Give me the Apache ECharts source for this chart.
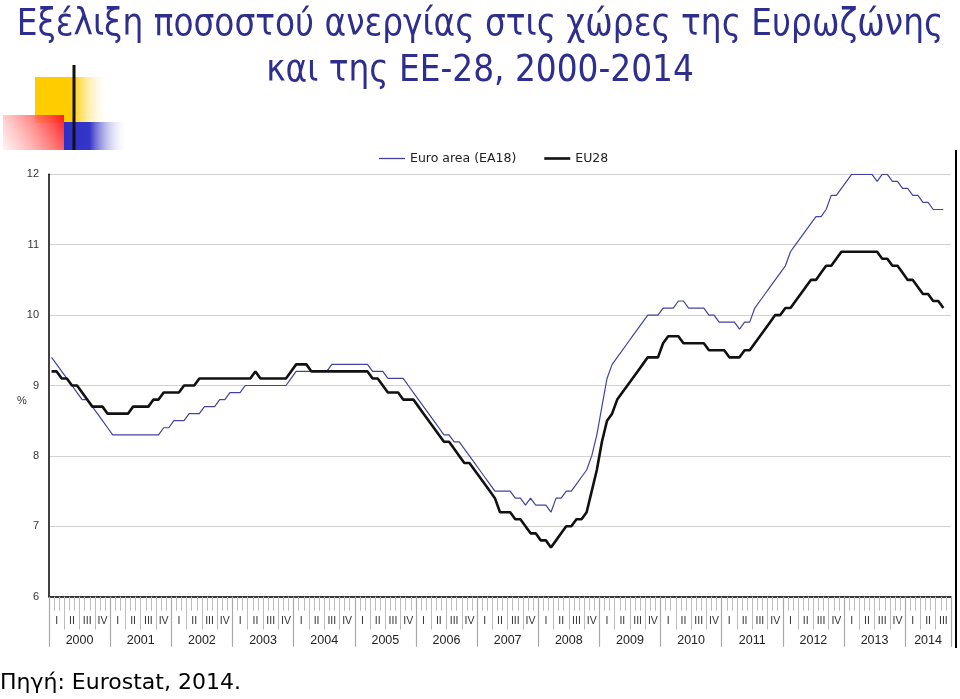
<!DOCTYPE html>
<html>
<head>
<meta charset="utf-8">
<script src="https://cdn.jsdelivr.net/npm/echarts@6/dist/echarts.min.js"></script>
<style>
html,body{margin:0;padding:0;background:#fff;}
#chart{width:960px;height:699px;}
</style>
</head>
<body>
<div id="chart"></div>
<script>
// Monthly categories Jan 2000 .. Sep 2014 (axis span); data run to Aug 2014
var years = ['2000','2001','2002','2003','2004','2005','2006','2007','2008','2009','2010','2011','2012','2013','2014'];
var quarterLabels = ['I','II','III','IV'];
var seriesNames = ['Euro area (EA18)', 'EU28'];

// Euro area (EA18), %
var euroArea = [
  9.4, 9.3, 9.2, 9.1, 9.0, 8.9, 8.8, 8.8, 8.7, 8.6, 8.5, 8.4,
  8.3, 8.3, 8.3, 8.3, 8.3, 8.3, 8.3, 8.3, 8.3, 8.3, 8.4, 8.4,
  8.5, 8.5, 8.5, 8.6, 8.6, 8.6, 8.7, 8.7, 8.7, 8.8, 8.8, 8.9,
  8.9, 8.9, 9.0, 9.0, 9.0, 9.0, 9.0, 9.0, 9.0, 9.0, 9.0, 9.1,
  9.2, 9.2, 9.2, 9.2, 9.2, 9.2, 9.2, 9.3, 9.3, 9.3, 9.3, 9.3,
  9.3, 9.3, 9.3, 9.2, 9.2, 9.2, 9.1, 9.1, 9.1, 9.1, 9.0, 8.9,
  8.8, 8.7, 8.6, 8.5, 8.4, 8.3, 8.3, 8.2, 8.2, 8.1, 8.0, 7.9,
  7.8, 7.7, 7.6, 7.5, 7.5, 7.5, 7.5, 7.4, 7.4, 7.3, 7.4, 7.3,
  7.3, 7.3, 7.2, 7.4, 7.4, 7.5, 7.5, 7.6, 7.7, 7.8, 8.0, 8.3,
  8.7, 9.1, 9.3, 9.4, 9.5, 9.6, 9.7, 9.8, 9.9, 10.0, 10.0, 10.0,
  10.1, 10.1, 10.1, 10.2, 10.2, 10.1, 10.1, 10.1, 10.1, 10.0, 10.0, 9.9,
  9.9, 9.9, 9.9, 9.8, 9.9, 9.9, 10.1, 10.2, 10.3, 10.4, 10.5, 10.6,
  10.7, 10.9, 11.0, 11.1, 11.2, 11.3, 11.4, 11.4, 11.5, 11.7, 11.7, 11.8,
  11.9, 12.0, 12.0, 12.0, 12.0, 12.0, 11.9, 12.0, 12.0, 11.9, 11.9, 11.8,
  11.8, 11.7, 11.7, 11.6, 11.6, 11.5, 11.5, 11.5
];

// EU28, %
var eu28 = [
  9.2, 9.2, 9.1, 9.1, 9.0, 9.0, 8.9, 8.8, 8.7, 8.7, 8.7, 8.6,
  8.6, 8.6, 8.6, 8.6, 8.7, 8.7, 8.7, 8.7, 8.8, 8.8, 8.9, 8.9,
  8.9, 8.9, 9.0, 9.0, 9.0, 9.1, 9.1, 9.1, 9.1, 9.1, 9.1, 9.1,
  9.1, 9.1, 9.1, 9.1, 9.2, 9.1, 9.1, 9.1, 9.1, 9.1, 9.1, 9.2,
  9.3, 9.3, 9.3, 9.2, 9.2, 9.2, 9.2, 9.2, 9.2, 9.2, 9.2, 9.2,
  9.2, 9.2, 9.2, 9.1, 9.1, 9.0, 8.9, 8.9, 8.9, 8.8, 8.8, 8.8,
  8.7, 8.6, 8.5, 8.4, 8.3, 8.2, 8.2, 8.1, 8.0, 7.9, 7.9, 7.8,
  7.7, 7.6, 7.5, 7.4, 7.2, 7.2, 7.2, 7.1, 7.1, 7.0, 6.9, 6.9,
  6.8, 6.8, 6.7, 6.8, 6.9, 7.0, 7.0, 7.1, 7.1, 7.2, 7.5, 7.8,
  8.2, 8.5, 8.6, 8.8, 8.9, 9.0, 9.1, 9.2, 9.3, 9.4, 9.4, 9.4,
  9.6, 9.7, 9.7, 9.7, 9.6, 9.6, 9.6, 9.6, 9.6, 9.5, 9.5, 9.5,
  9.5, 9.4, 9.4, 9.4, 9.5, 9.5, 9.6, 9.7, 9.8, 9.9, 10.0, 10.0,
  10.1, 10.1, 10.2, 10.3, 10.4, 10.5, 10.5, 10.6, 10.7, 10.7, 10.8, 10.9,
  10.9, 10.9, 10.9, 10.9, 10.9, 10.9, 10.9, 10.8, 10.8, 10.7, 10.7, 10.6,
  10.5, 10.5, 10.4, 10.3, 10.3, 10.2, 10.2, 10.1
];

var yTicks = [6, 7, 8, 9, 10, 11, 12];

// build month categories (177 months: Jan 2000 .. Sep 2014)
var months = [];
for (var y = 0; y < years.length; y++) {
  var nm = (y === years.length - 1) ? 9 : 12;
  for (var m = 1; m <= nm; m++) months.push(years[y] + '-' + (m < 10 ? '0' + m : m));
}
var nMonths = months.length;
var quarterBounds = [], quarterCenters = [];
for (var q = 0; q <= nMonths; q += 3) quarterBounds.push(q);
for (var q2 = 0; q2 < nMonths; q2 += 3) quarterCenters.push(q2 + 1.5);
var yearBounds = [], yearCenters = [];
for (var k = 0; k < years.length; k++) {
  yearBounds.push(k * 12);
  var end = Math.min(k * 12 + 12, nMonths);
  yearCenters.push((k * 12 + end) / 2);
}
yearBounds.push(nMonths);

var chart = echarts.init(document.getElementById('chart'), null, {renderer: 'canvas'});
var gridL = 49, gridR = 9, gridT = 174.3, gridB = 102.3;
var titleFont = '"DejaVu Sans Condensed", "DejaVu Sans", sans-serif';

var option = {
  animation: false,
  backgroundColor: '#ffffff',
  title: [
    {text: 'Εξέλιξη ποσοστού ανεργίας στις χώρες της Ευρωζώνης', left: 'center', top: 2,
     textStyle: {fontFamily: titleFont, fontSize: 36.5, fontWeight: 'normal', color: '#2e2e8f'}},
    {text: 'και της ΕΕ-28, 2000-2014', left: 'center', top: 48,
     textStyle: {fontFamily: titleFont, fontSize: 36.5, fontWeight: 'normal', color: '#2e2e8f'}},
    {text: 'Πηγή: Eurostat, 2014.', left: 0, top: 672, padding: 0,
     textStyle: {fontFamily: 'DejaVu Sans', fontSize: 22, fontWeight: 'normal', color: '#000'}}
  ],
  legend: {
    data: [
      {name: seriesNames[0], icon: 'path://M0,0h26v1.3h-26z'},
      {name: seriesNames[1], icon: 'path://M0,0h26v2.6h-26z'}
    ],
    left: 374, top: 147, itemWidth: 26, itemHeight: 10, itemGap: 28,
    textStyle: {fontFamily: 'DejaVu Sans', fontSize: 12.5, color: '#222'}
  },
  grid: {left: gridL, right: gridR, top: gridT, bottom: gridB, containLabel: false},
  xAxis: [
    {
      type: 'category', data: months, boundaryGap: true, position: 'bottom',
      axisLine: {show: true, lineStyle: {color: '#000', width: 1.5}},
      axisTick: {show: true, interval: 0, length: 14, lineStyle: {color: '#bdbdbd', width: 1}},
      axisLabel: {show: false}, splitLine: {show: false}
    },
    {
      type: 'value', min: 0, max: nMonths, position: 'bottom', offset: 14,
      axisLine: {show: false},
      axisTick: {show: true, customValues: quarterBounds, length: 19, lineStyle: {color: '#bdbdbd', width: 1}},
      axisLabel: {show: true, customValues: quarterCenters, margin: 5,
        fontFamily: 'Liberation Sans', fontSize: 10.5, color: '#333',
        formatter: function (v) { return quarterLabels[Math.round((v - 1.5) / 3) % 4]; }},
      splitLine: {show: false}
    },
    {
      type: 'value', min: 0, max: nMonths, position: 'bottom', offset: 0,
      axisLine: {show: false},
      axisTick: {show: true, customValues: yearBounds, length: 50, lineStyle: {color: '#a8a8a8', width: 1.2}},
      axisLabel: {show: true, customValues: yearCenters, margin: 37,
        fontFamily: 'Liberation Sans', fontSize: 12.5, color: '#222',
        formatter: function (v) {
          for (var i = 0; i < yearCenters.length; i++) if (Math.abs(yearCenters[i] - v) < 0.01) return years[i];
          return '';
        }},
      splitLine: {show: false}
    }
  ],
  yAxis: {
    type: 'value', min: yTicks[0], max: yTicks[yTicks.length - 1], interval: 1,
    axisLine: {show: true, lineStyle: {color: '#000', width: 1.5}},
    axisTick: {show: false},
    axisLabel: {margin: 10, fontFamily: 'Liberation Sans', fontSize: 11, color: '#333'},
    splitLine: {show: true, lineStyle: {color: '#d2d2d2', width: 1}}
  },
  series: [
    {name: seriesNames[0], type: 'line', xAxisIndex: 0, data: euroArea, symbol: 'none',
     lineStyle: {color: '#43439e', width: 1.2}, itemStyle: {color: '#43439e'}},
    {name: seriesNames[1], type: 'line', xAxisIndex: 0, data: eu28, symbol: 'none',
     lineStyle: {color: '#111', width: 2.6}, itemStyle: {color: '#111'}}
  ],
  graphic: [
    // decorative squares
    {type: 'rect', shape: {x: 35, y: 77, width: 75, height: 46}, z: 1,
     style: {fill: new echarts.graphic.LinearGradient(0, 0, 1, 0, [
       {offset: 0, color: '#ffcc00'}, {offset: 0.5, color: '#ffcc00'}, {offset: 1, color: 'rgba(255,255,255,0)'}])}},
    {type: 'rect', shape: {x: 3, y: 115, width: 61, height: 35}, z: 2,
     style: {fill: new echarts.graphic.LinearGradient(1, 0, 0, 1, [
       {offset: 0, color: '#ff1a1a'}, {offset: 1, color: 'rgba(255,235,235,0.6)'}])}},
    {type: 'rect', shape: {x: 64, y: 122, width: 64, height: 28}, z: 2,
     style: {fill: new echarts.graphic.LinearGradient(0, 0, 1, 0, [
       {offset: 0, color: '#2f2fc8'}, {offset: 0.4, color: '#3535c8'}, {offset: 1, color: 'rgba(255,255,255,0)'}])}},
    {type: 'line', shape: {x1: 74, y1: 65, x2: 74, y2: 150}, z: 3,
     style: {stroke: '#111', lineWidth: 3}},
    // right frame line
    {type: 'line', shape: {x1: 956, y1: 150, x2: 956, y2: 648}, z: 3,
     style: {stroke: '#000', lineWidth: 2}},
    // % unit label
    {type: 'text', x: 17, y: 395, z: 3,
     style: {text: '%', font: '11px "Liberation Sans"', fill: '#333'}}
  ]
};
chart.setOption(option);
</script>
</body>
</html>
